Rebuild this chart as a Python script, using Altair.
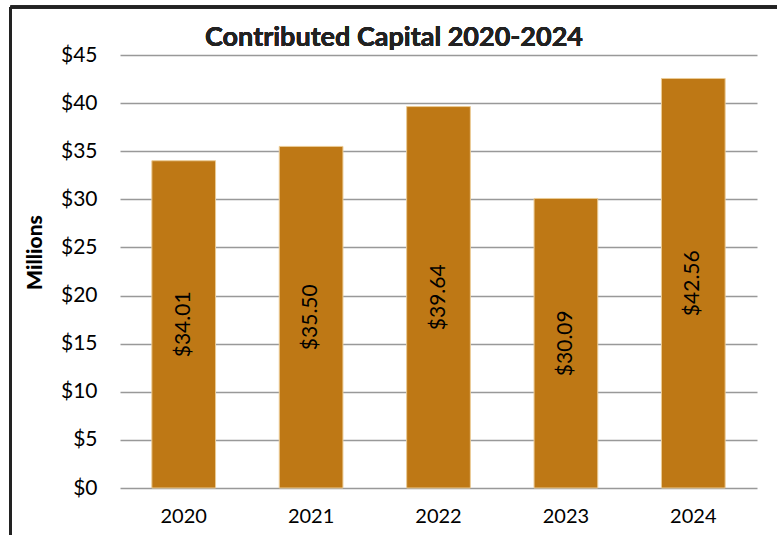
import altair as alt
import pandas as pd

# Contributed capital by year, in millions of dollars
years = ["2020", "2021", "2022", "2023", "2024"]
capital = [34.01, 35.50, 39.64, 30.09, 42.56]
y_ticks = [0, 5, 10, 15, 20, 25, 30, 35, 40, 45]

df = pd.DataFrame({"year": years, "capital": capital})

FONT = "Lato"
BAR = "#BE7815"
W, H = 630, 433
LEFT, TOP = 120, 55

x_enc = alt.X(
    "year:N",
    sort=years,
    scale=alt.Scale(paddingInner=0.5, paddingOuter=0.25, range=[0, 637]),
    axis=alt.Axis(
        title=None, labelAngle=0, ticks=False, domain=False,
        labelFontSize=20, labelColor="#000", labelPadding=18, labelFont=FONT,
    ),
)

y_enc = alt.Y(
    "capital:Q",
    scale=alt.Scale(domain=[0, 45], nice=False),
    axis=alt.Axis(
        values=y_ticks, labelExpr="'$' + datum.value",
        ticks=False, domain=False, grid=True,
        gridColor="#999999", gridWidth=1.6,
        labelFontSize=21, labelColor="#000", labelPadding=23, labelFont=FONT,
        title="Millions", titleFont=FONT, titleFontSize=21, titleFontWeight=900,
        titleColor="#000", titleAngle=270, titleX=-85, titleY=197,
        titleAlign="center", titleBaseline="middle",
    ),
)

bars = alt.Chart(df).mark_bar(color=BAR, stroke="#EBCB95", strokeWidth=1).encode(
    x=x_enc, y=y_enc
)

labels = alt.Chart(df).transform_calculate(
    mid="datum.capital / 2",
    txt="format(datum.capital, '$.2f')",
).mark_text(
    angle=270, font=FONT, fontSize=21, color="#000", align="center", baseline="middle"
).encode(
    x=alt.X("year:N", sort=years),
    y=alt.Y("mid:Q"),
    text="txt:N",
)

title = alt.Chart(df).mark_text(
    text="Contributed Capital 2020-2024", font=FONT, fontSize=27, fontWeight="bold",
    color="#222", align="center", baseline="middle",
).encode(x=alt.value(394 - LEFT), y=alt.value(38 - TOP))

# Outer frame drawn around the whole figure
frame_top = alt.Chart(df).mark_rule(color="#222", strokeWidth=3).encode(
    x=alt.value(10.5 - LEFT), x2=alt.value(800 - LEFT), y=alt.value(7 - TOP)
)
frame_left = alt.Chart(df).mark_rule(color="#222", strokeWidth=3).encode(
    x=alt.value(10.5 - LEFT), y=alt.value(7 - TOP), y2=alt.value(560 - TOP)
)

chart = alt.layer(bars, labels, title, frame_top, frame_left).properties(
    width=W, height=H,
    autosize=alt.AutoSizeParams(type="none"),
    padding={"left": LEFT, "top": TOP, "right": 777 - LEFT - W, "bottom": 535 - TOP - H},
    background="white",
).configure_view(stroke=None)

chart.save("out.html", embed_options={"renderer": "svg", "actions": False})
